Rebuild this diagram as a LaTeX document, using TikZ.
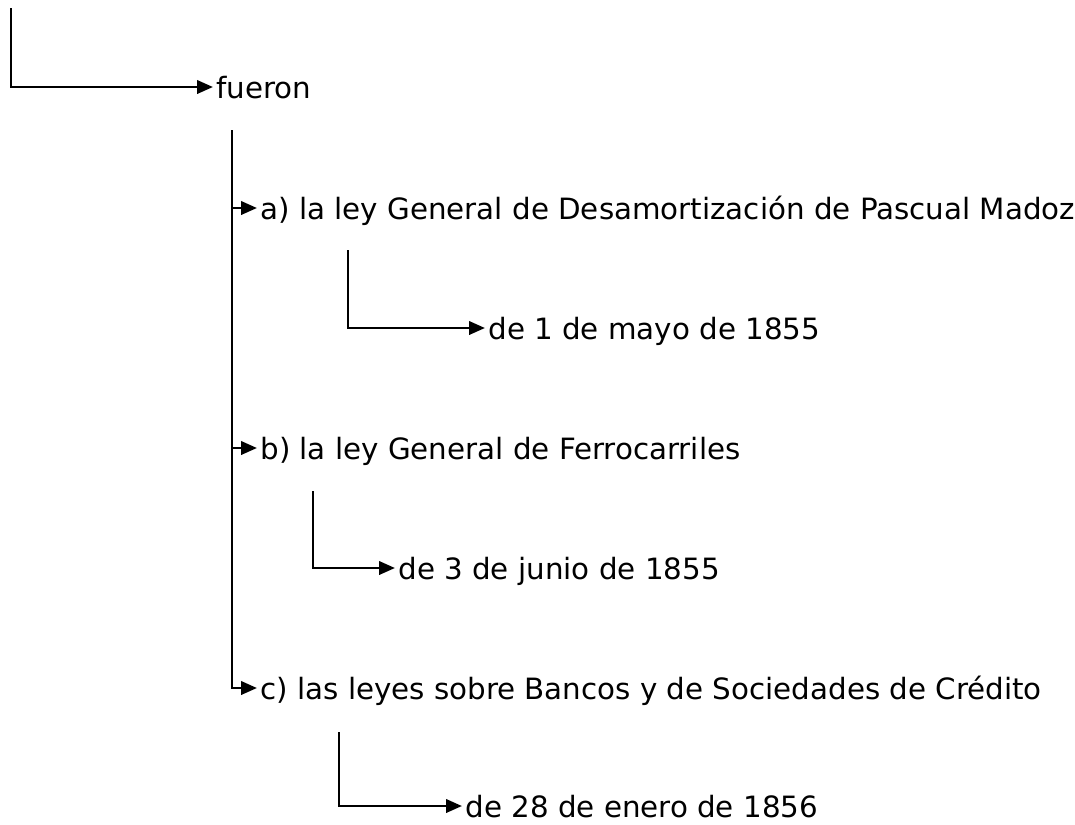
\documentclass[tikz,border=0pt]{standalone}
\usepackage{fontspec}
\setmainfont{DejaVu Sans}
\usetikzlibrary{arrows.meta}

\begin{document}
\begin{tikzpicture}[x=0.75pt,y=-0.75pt,line width=2.1pt,
    arr/.style={-{Triangle[length=12pt,width=10pt]}},
    txt/.style={anchor=west,inner xsep=1.5pt,inner ysep=0pt,text height=17pt,text depth=0pt,font=\fontsize{22}{26}\selectfont}]
    \useasboundingbox (0,0) rectangle (1075,825);
    % free ends of the connectors
    \coordinate (top0) at (11,8);
    \coordinate (trunk) at (232,130);
    \coordinate (topa) at (348,250);
    \coordinate (topb) at (313,491);
    \coordinate (topc) at (339,732);
    % texts
    \node[txt] (fueron) at (213,87) {fueron};
    \node[txt] (la) at (257,208) {a) la ley General de Desamortización de Pascual Madoz};
    \node[txt] (lad) at (485,328) {de 1 de mayo de 1855};
    \node[txt] (lb) at (257,448) {b) la ley General de Ferrocarriles};
    \node[txt] (lbd) at (395,568) {de 3 de junio de 1855};
    \node[txt] (lc) at (257,688) {c) las leyes sobre Bancos y de Sociedades de Crédito};
    \node[txt] (lcd) at (462,806) {de 28 de enero de 1856};
    % connectors
    \draw[arr] (top0) |- (fueron.west);
    \draw[arr] (trunk) |- (lc.west);
    \draw[arr] (trunk |- la.west) -- (la.west);
    \draw[arr] (trunk |- lb.west) -- (lb.west);
    \draw[arr] (topa) |- (lad.west);
    \draw[arr] (topb) |- (lbd.west);
    \draw[arr] (topc) |- (lcd.west);
\end{tikzpicture}
\end{document}
